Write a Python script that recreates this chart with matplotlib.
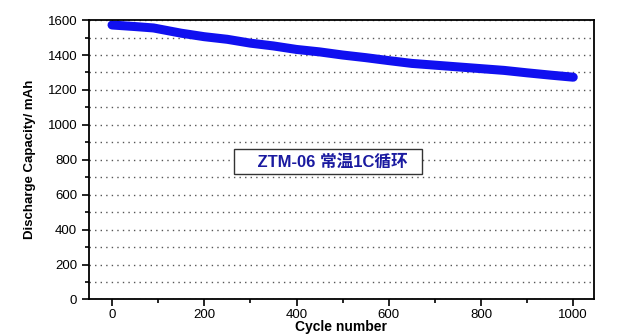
import matplotlib
matplotlib.use("Agg")
import matplotlib.pyplot as plt
from matplotlib.ticker import MultipleLocator

# capacity readings (cycle, mAh)
cycles = [0, 50, 90, 150, 200, 250, 300, 350, 400, 450, 500,
          550, 600, 650, 700, 750, 800, 850, 900, 950, 1000]
capacity = [1572, 1563, 1555, 1525, 1505, 1490, 1468, 1452, 1432, 1418, 1400,
            1385, 1368, 1352, 1342, 1332, 1322, 1312, 1298, 1285, 1273]

title_text = "ZTM-06 常温1C循环"

plt.rcParams['font.family'] = ['Liberation Sans', 'DejaVu Sans']

fig = plt.figure(figsize=(6.22, 3.35), dpi=100)
ax = fig.add_axes([0.143, 0.106, 0.812, 0.834])

ax.plot(cycles, capacity, color='#1010f0', lw=6.5, solid_capstyle='round')

ax.set_xlim(-50, 1045)
ax.set_ylim(0, 1600)
ax.xaxis.set_major_locator(MultipleLocator(200))
ax.xaxis.set_minor_locator(MultipleLocator(100))
ax.yaxis.set_major_locator(MultipleLocator(200))
ax.yaxis.set_minor_locator(MultipleLocator(100))
ax.tick_params(which='both', direction='out', labelsize=9.5, width=1.2)
ax.tick_params(axis='x', pad=2)
ax.tick_params(which='major', length=5)
ax.tick_params(which='minor', length=3)
for s in ax.spines.values():
    s.set_linewidth(1.3)

ax.yaxis.grid(True, which='both', linestyle=(0, (1, 3)), color='#555555', lw=1)
ax.set_axisbelow(True)

ax.set_ylabel("Discharge Capacity/ mAh", fontsize=9.5, fontweight='bold',
              fontstretch='condensed', labelpad=8)
ax.set_xlabel("Cycle number", fontsize=10, fontweight='bold', labelpad=-1)

ax.text(468, 790, "    " + title_text + "  ", ha='center', va='center', fontsize=12,
        fontweight='bold', color='#1a1aa0',
        family=['Liberation Sans', 'Noto Sans CJK SC'],
        bbox=dict(boxstyle='square,pad=0.3', fc='white', ec='#333333', lw=1))

fig.savefig("out.png", dpi=100)
